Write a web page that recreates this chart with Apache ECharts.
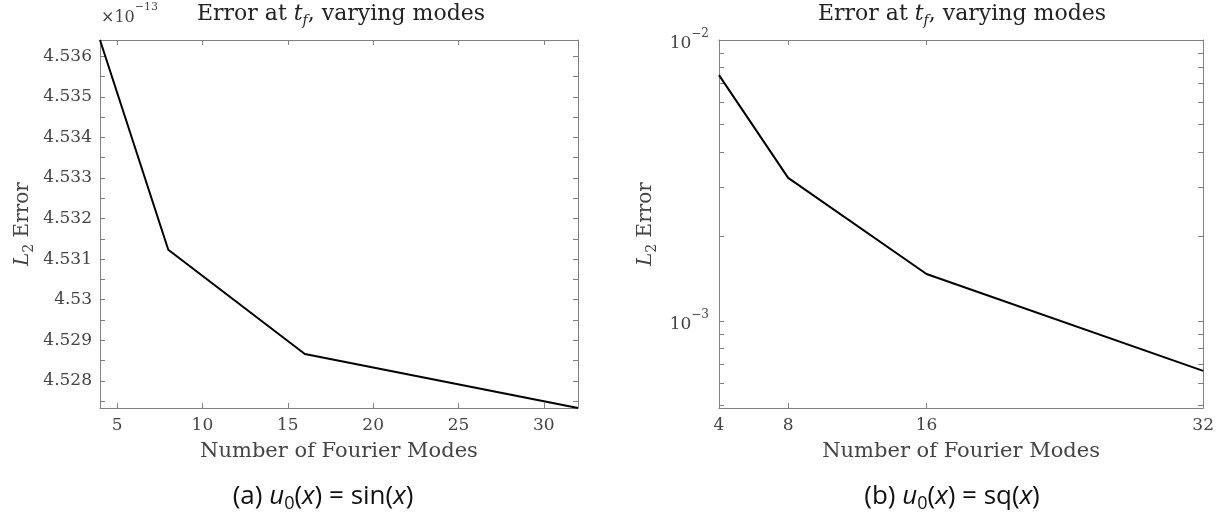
<!DOCTYPE html>
<html>
<head>
<meta charset="utf-8">
<script src="https://cdn.jsdelivr.net/npm/echarts@6/dist/echarts.min.js"></script>
<style>
  html, body { margin: 0; background: #fff; }
  #chart { width: 1217px; height: 520px; }
</style>
</head>
<body>
<div id="chart"></div>
<script>
// data
const modes = [4, 8, 16, 32]
// u0 = sin(x), in units of 1e-13
const errSin = [4.53640, 4.53123, 4.52866, 4.52733]
// u0 = sq(x)
const errSq = [7.5e-3, 3.23e-3, 1.47e-3, 6.64e-4]

const sinTicksX = [5, 10, 15, 20, 25, 30]
const sinTicksY = [4.528, 4.529, 4.530, 4.531, 4.532, 4.533, 4.534, 4.535, 4.536]
const sinMinorY = [4.5275, 4.5285, 4.5295, 4.5305, 4.5315, 4.5325, 4.5335, 4.5345, 4.5355]
const sqTicksX = [4, 8, 16, 32]
const sqTicksY = [1e-3, 1e-2]
const sqMinorY = [5e-4, 6e-4, 7e-4, 8e-4, 9e-4, 2e-3, 3e-3, 4e-3, 5e-3, 6e-3, 7e-3, 8e-3, 9e-3]

const SERIF = 'DejaVu Serif'
const SANS = 'Open Sans'
const frameColor = '#808080'
const textColor = '#444'

const sinMin = Math.min(...errSin)
const sinMax = Math.max(...errSin)

const chart = echarts.init(document.getElementById('chart'))

const lineStyle = { color: frameColor, width: 1 }

function tickOpt(values) {
  return { show: true, inside: true, length: 5, customValues: values, lineStyle: { color: frameColor } }
}

function frameAxis(extra) {
  return Object.assign({
    type: 'value',
    axisLine: { show: true, onZero: false, lineStyle },
    axisLabel: { show: false },
    splitLine: { show: false }
  }, extra)
}

const labelRich = {
  b: { fontFamily: SERIF, fontSize: 17, color: textColor, lineHeight: 24, verticalAlign: 'bottom' },
  s: { fontFamily: SERIF, fontSize: 12, color: textColor, lineHeight: 24, verticalAlign: 'top' }
}

const nameRich = {
  n: { fontFamily: SERIF, fontSize: 20, color: textColor, lineHeight: 26, verticalAlign: 'middle' },
  i: { fontFamily: SERIF, fontSize: 20, fontStyle: 'italic', color: textColor, lineHeight: 26, verticalAlign: 'middle' },
  sub: { fontFamily: SERIF, fontSize: 14, color: textColor, lineHeight: 26, verticalAlign: 'bottom' }
}

function titleText(x) {
  return {
    type: 'text',
    x: x,
    y: 14,
    style: {
      text: '{n|Error at }{i|t}{sub|f}{n|, varying modes}',
      align: 'center',
      verticalAlign: 'middle',
      rich: {
        n: { fontFamily: SERIF, fontSize: 22, fill: '#222', lineHeight: 28, verticalAlign: 'middle' },
        i: { fontFamily: SERIF, fontSize: 22, fontStyle: 'italic', fill: '#222', lineHeight: 28, verticalAlign: 'middle' },
        sub: { fontFamily: SERIF, fontSize: 14, fontStyle: 'italic', fill: '#222', lineHeight: 28, verticalAlign: 'bottom' }
      }
    }
  }
}

function captionText(x, label, fn) {
  return {
    type: 'text',
    x: x,
    y: 497,
    style: {
      text: '{n|(' + label + ') }{i|u}{s|0}{n|(}{i|x}{n|) = ' + fn + '(}{i|x}{n|)}',
      align: 'center',
      verticalAlign: 'middle',
      rich: {
        n: { fontFamily: SANS, fontSize: 26, fill: '#111', lineHeight: 32, verticalAlign: 'middle' },
        i: { fontFamily: SANS, fontSize: 26, fontStyle: 'italic', fill: '#111', lineHeight: 32, verticalAlign: 'middle' },
        s: { fontFamily: SANS, fontSize: 18, fill: '#111', lineHeight: 32, verticalAlign: 'bottom' }
      }
    }
  }
}

chart.setOption({
  animation: false,
  grid: [
    { left: 100, top: 40, width: 478, height: 368 },
    { left: 719, top: 40, width: 486, height: 368 }
  ],
  xAxis: [
    frameAxis({
      gridIndex: 0, position: 'bottom', min: 4, max: 32,
      axisTick: tickOpt(sinTicksX),
      axisLabel: { show: true, customValues: sinTicksX, color: textColor, fontFamily: SERIF, fontSize: 17, margin: 9 },
      name: 'Number of Fourier Modes', nameLocation: 'middle', nameGap: 33,
      nameTextStyle: { fontFamily: SERIF, fontSize: 21, color: textColor }
    }),
    frameAxis({ gridIndex: 0, position: 'top', min: 4, max: 32, axisTick: tickOpt(sinTicksX) }),
    frameAxis({
      gridIndex: 1, position: 'bottom', min: 4, max: 32,
      axisTick: tickOpt(sqTicksX),
      axisLabel: { show: true, customValues: sqTicksX, color: textColor, fontFamily: SERIF, fontSize: 17, margin: 9 },
      name: 'Number of Fourier Modes', nameLocation: 'middle', nameGap: 33,
      nameTextStyle: { fontFamily: SERIF, fontSize: 21, color: textColor }
    }),
    frameAxis({ gridIndex: 1, position: 'top', min: 4, max: 32, axisTick: tickOpt(sqTicksX) })
  ],
  yAxis: [
    frameAxis({
      gridIndex: 0, position: 'left', min: sinMin, max: sinMax,
      axisTick: tickOpt(sinTicksY.concat(sinMinorY)),
      axisLabel: {
        show: true, customValues: sinTicksY, color: textColor, fontFamily: SERIF, fontSize: 17, margin: 8,
        formatter: v => String(+v.toFixed(3))
      },
      name: '{i|L}{sub|2}{n| Error}', nameLocation: 'middle', nameGap: 64, nameRotate: 90,
      nameTextStyle: { rich: nameRich }
    }),
    frameAxis({ gridIndex: 0, position: 'right', min: sinMin, max: sinMax, axisTick: tickOpt(sinTicksY.concat(sinMinorY)) }),
    frameAxis({
      type: 'log', logBase: 10, gridIndex: 1, position: 'left', min: 4.9e-4, max: 1e-2,
      axisTick: tickOpt(sqTicksY.concat(sqMinorY)),
      axisLabel: {
        show: true, customValues: sqTicksY, margin: 10,
        formatter: v => '{b|10}{s|' + String(Math.round(Math.log10(v))).replace('-', '\u2212') + '}',
        rich: labelRich
      },
      name: '{i|L}{sub|2}{n| Error}', nameLocation: 'middle', nameGap: 60, nameRotate: 90,
      nameTextStyle: { rich: nameRich }
    }),
    frameAxis({ type: 'log', logBase: 10, gridIndex: 1, position: 'right', min: 4.9e-4, max: 1e-2, axisTick: tickOpt(sqTicksY.concat(sqMinorY)) })
  ],
  series: [
    {
      type: 'line', xAxisIndex: 0, yAxisIndex: 0, symbol: 'none',
      lineStyle: { color: '#000', width: 2 },
      data: modes.map((m, i) => [m, errSin[i]])
    },
    {
      type: 'line', xAxisIndex: 2, yAxisIndex: 2, symbol: 'none',
      lineStyle: { color: '#000', width: 2 },
      data: modes.map((m, i) => [m, errSq[i]])
    }
  ],
  graphic: [
    titleText(341),
    titleText(962),
    {
      type: 'text', x: 101, y: 14,
      style: {
        text: '{b|\u00d710}{s|\u221213}',
        align: 'left', verticalAlign: 'middle',
        rich: {
          b: { fontFamily: SERIF, fontSize: 16, fill: textColor, lineHeight: 24, verticalAlign: 'bottom' },
          s: { fontFamily: SERIF, fontSize: 11, fill: textColor, lineHeight: 24, verticalAlign: 'top' }
        }
      }
    },
    captionText(323, 'a', 'sin'),
    captionText(952, 'b', 'sq')
  ]
})
</script>
</body>
</html>
